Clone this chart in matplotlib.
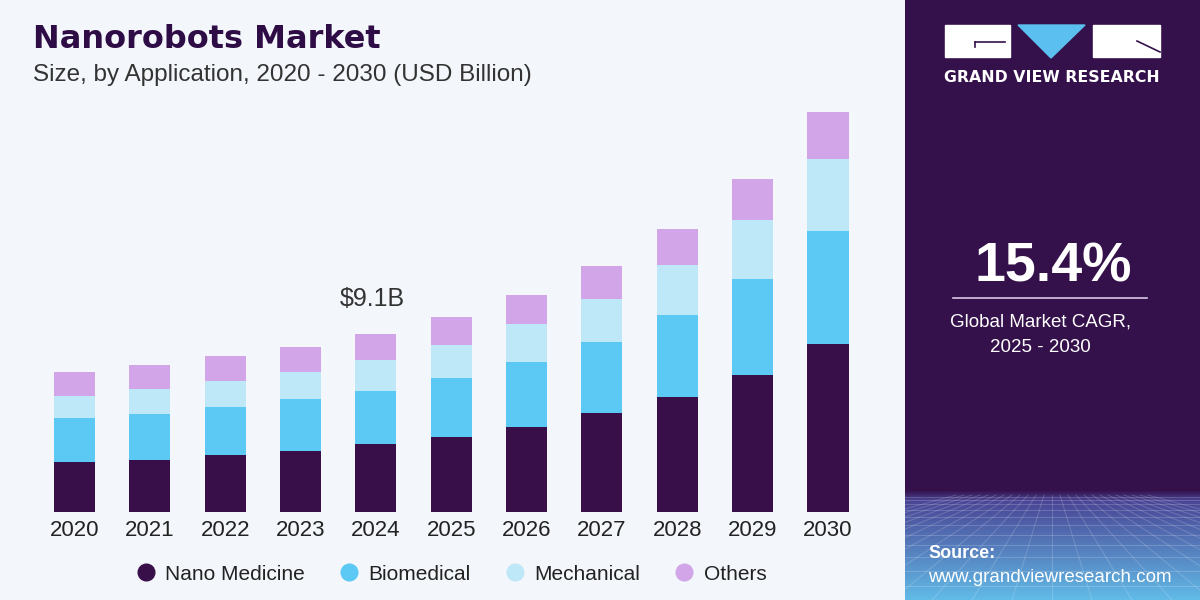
import numpy as np
import matplotlib.pyplot as plt
from matplotlib.patches import Rectangle, Polygon
from matplotlib.lines import Line2D

# values (USD billion)
years = ['2020', '2021', '2022', '2023', '2024', '2025', '2026', '2027', '2028', '2029', '2030']
nano_medicine = [2.56, 2.66, 2.91, 3.12, 3.48, 3.83, 4.35, 5.06, 5.88, 7.00, 8.59]
biomedical = [2.25, 2.35, 2.45, 2.66, 2.71, 3.02, 3.32, 3.63, 4.19, 4.91, 5.78]
mechanical = [1.12, 1.28, 1.33, 1.38, 1.58, 1.69, 1.94, 2.20, 2.56, 3.02, 3.68]
others = [1.23, 1.23, 1.28, 1.28, 1.33, 1.43, 1.48, 1.69, 1.84, 2.10, 2.40]
series_names = ['Nano Medicine', 'Biomedical', 'Mechanical', 'Others']
series_colors = ['#390f49', '#5bc9f4', '#bee8f8', '#d2a5e9']
callout_year = '2024'
callout_text = '$9.1B'
cagr = '15.4%'

plt.rcParams['font.family'] = ['Liberation Sans', 'DejaVu Sans']

W, H = 1200, 600
fig = plt.figure(figsize=(12, 6), dpi=100)
fig.patch.set_facecolor('#f3f6fa')

# ---- main chart ----
# axes bottom sits on the bar baseline (88 px up from the bottom)
ax = fig.add_axes([0, 88 / H, 905 / W, 512 / H])
ax.set_facecolor('#f3f6fa')
x = np.arange(len(years))
bottom = np.zeros(len(years))
for vals, col in zip([nano_medicine, biomedical, mechanical, others], series_colors):
    ax.bar(x, vals, width=0.545, bottom=bottom, color=col, linewidth=0)
    bottom += np.array(vals)

ppx = 75.35
ax.set_xlim(-74.5 / ppx, (905 - 74.5) / ppx)
ppy = 178 / 9.1
ax.set_ylim(0, 512 / ppy)
for s in ax.spines.values():
    s.set_visible(False)
ax.set_yticks([])
ax.set_xticks(x)
ax.set_xticklabels(years, fontsize=16, color='#222222')
ax.tick_params(axis='x', length=0, pad=6)

ci = years.index(callout_year)
ax.text(ci - 0.05, bottom[ci] + 1.2, callout_text, ha='center', va='bottom',
        fontsize=18, color='#333333')

fig.text(33 / W, 1 - 40 / H, 'Nanorobots Market', fontsize=23, fontweight='bold',
         color='#2e0c45', family=['DejaVu Sans'], va='center')
fig.text(33 / W, 1 - 75 / H, 'Size, by Application, 2020 - 2030 (USD Billion)',
         fontsize=17.5, color='#333333', va='center')

handles = [Line2D([], [], marker='o', linestyle='', markersize=12, color=c) for c in series_colors]
fig.legend(handles, series_names, loc='center', bbox_to_anchor=(452 / W, 1 - 574 / H),
           ncol=4, frameon=False, fontsize=15, handlelength=0.8, handletextpad=0.55,
           columnspacing=1.7, labelcolor='#222222')

# ---- right panel ----
rp = fig.add_axes([905 / W, 0, 295 / W, 1])
rp.set_xlim(905, 1200)
rp.set_ylim(600, 0)
rp.axis('off')
top_col = np.array([0x35, 0x11, 0x4b]) / 255
mid_col = np.array([0x4a, 0x45, 0x95]) / 255
bot_col = np.array([0x62, 0xbc, 0xe8]) / 255
grad = np.zeros((600, 1, 3))
for r in range(600):
    if r < 490:
        c = top_col
    elif r < 500:
        t = (r - 490) / 10
        c = top_col * (1 - t) + mid_col * t
    else:
        t = (r - 500) / 100
        c = mid_col * (1 - t) + bot_col * t
    grad[r, 0] = c
rp.imshow(grad, extent=(905, 1200, 600, 0), aspect='auto', zorder=0)
# faint perspective grid
for k in range(-12, 13):
    rp.plot([1052 + k * 8, 1052 + k * 40], [495, 600], color='white', alpha=0.18, lw=0.7, zorder=1)
yy = 497
step = 3
while yy < 600:
    rp.plot([905, 1200], [yy, yy], color='white', alpha=0.18, lw=0.7, zorder=1)
    yy += step
    step += 1.3

# logo
rp.add_patch(Rectangle((945, 25), 65, 32, color='white', zorder=2))
rp.plot([975, 1005], [42, 42], color='#35114b', lw=1.2, zorder=3)
rp.plot([975, 975], [42, 47], color='#35114b', lw=1.2, zorder=3)
rp.add_patch(Polygon([[1018, 25], [1085, 25], [1051, 58]], closed=True, color='#5bc0ef', zorder=2))
rp.add_patch(Rectangle((1093, 25), 67, 32, color='white', zorder=2))
rp.plot([1137, 1160], [41, 52], color='#35114b', lw=1.2, zorder=3)
rp.text(1052, 78, 'GRAND VIEW RESEARCH', ha='center', va='center', color='white',
        fontsize=11.3, fontweight='bold', family=['DejaVu Sans'])

rp.text(1053, 268, cagr, ha='center', va='center', color='white', fontsize=40, fontweight='bold')
rp.plot([953, 1147], [298, 298], color='#d8c8e8', lw=1.2)
rp.text(1040, 322, 'Global Market CAGR,', ha='center', va='center', color='white', fontsize=13.5)
rp.text(1040, 347, '2025 - 2030', ha='center', va='center', color='white', fontsize=13.5)
rp.text(928, 553, 'Source:', ha='left', va='center', color='white', fontsize=13, fontweight='bold')
rp.text(928, 577, 'www.grandviewresearch.com', ha='left', va='center', color='white', fontsize=13.5)

fig.savefig('out.png', dpi=100, facecolor=fig.get_facecolor())
